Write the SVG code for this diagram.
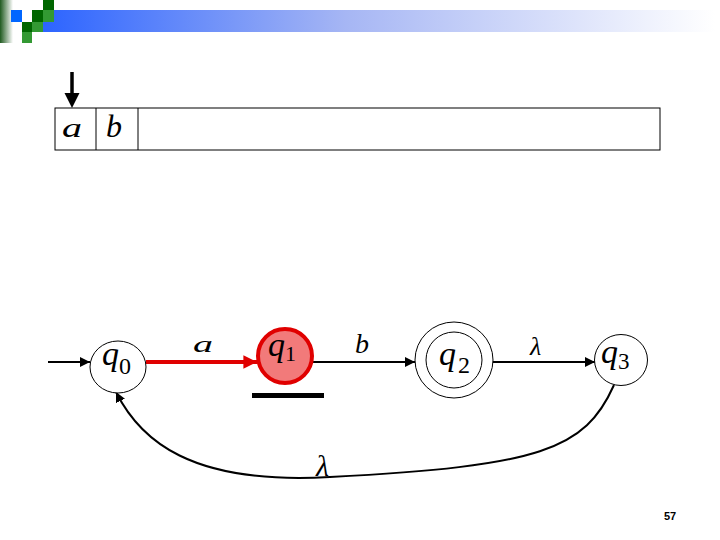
<svg xmlns="http://www.w3.org/2000/svg" width="720" height="540" viewBox="0 0 720 540">
<style>
.st{font-family:"Liberation Serif","DejaVu Serif","Times New Roman",serif;font-style:italic;fill:#000}
.sub{font-style:normal}
.lbl{font-family:"Liberation Serif","DejaVu Serif","Times New Roman",serif;font-style:italic;fill:#000}
.edge{stroke:#000;stroke-width:2;fill:none}
.thin{stroke:#000;stroke-width:1;fill:#fff}
</style>
<defs>
<linearGradient id="bar" x1="0" y1="0" x2="1" y2="0">
<stop offset="0" stop-color="#2c64ff"/>
<stop offset="0.45" stop-color="#a6b6f4"/>
<stop offset="1" stop-color="#ffffff"/>
</linearGradient>
<linearGradient id="side" x1="0" y1="0" x2="1" y2="0">
<stop offset="0" stop-color="#1f5a1f"/>
<stop offset="1" stop-color="#ffffff"/>
</linearGradient>
<marker id="ah" viewBox="0 0 10 10" refX="10" refY="5" markerWidth="5" markerHeight="5" orient="auto" markerUnits="strokeWidth">
<path d="M0,0 L10,5 L0,10 z" fill="#000"/>
</marker>
<marker id="ahr" viewBox="0 0 10 10" refX="10" refY="5" markerWidth="4" markerHeight="3.4" orient="auto" markerUnits="strokeWidth">
<path d="M0,0 L10,5 L0,10 z" fill="#e00000"/>
</marker>
</defs>

<g id="header">
<rect x="0" y="0" width="13" height="43" fill="url(#side)"/>
<rect x="43" y="10" width="672" height="22" fill="url(#bar)"/>
<rect x="11" y="10" width="11" height="12" fill="#0066ff"/>
<rect x="43" y="0" width="11" height="10" fill="#006600"/>
<rect x="32" y="10" width="11" height="12" fill="#006600"/>
<rect x="43" y="10" width="11" height="12" fill="#339933"/>
<rect x="22" y="22" width="10" height="10" fill="#006600"/>
<rect x="32" y="22" width="11" height="10" fill="#339933"/>
<rect x="22" y="32" width="10" height="11" fill="#339933"/>
</g>

<g id="tape">
<rect x="55" y="108" width="605" height="42" fill="#fff" stroke="#000" stroke-width="1"/>
<line x1="96" y1="108" x2="96" y2="150" stroke="#000" stroke-width="1"/>
<line x1="138" y1="108" x2="138" y2="150" stroke="#000" stroke-width="1"/>
<text class="lbl" x="62" y="137" font-size="28" textLength="20" lengthAdjust="spacingAndGlyphs">a</text>
<text class="lbl" x="106" y="137" font-size="32">b</text>
</g>

<g id="head">
<line x1="72" y1="72" x2="72" y2="95" stroke="#000" stroke-width="3.5"/>
<path d="M64.5,93 L79.5,93 L72,108 z" fill="#000"/>
</g>

<g id="connectors">
<line class="edge" x1="48" y1="362" x2="90" y2="362" marker-end="url(#ah)"/>
<line x1="146" y1="362" x2="257" y2="362" stroke="#e00000" stroke-width="4" marker-end="url(#ahr)"/>
<line class="edge" x1="313" y1="362" x2="415" y2="362" marker-end="url(#ah)"/>
<line class="edge" x1="493" y1="362" x2="595" y2="362" marker-end="url(#ah)"/>
<path class="edge" d="M614,385 C585,450 540,466 330,477 C190,485 140,440 116,392" marker-end="url(#ah)"/>
<text class="lbl" x="193" y="352" font-size="24" textLength="20" lengthAdjust="spacingAndGlyphs">a</text>
<text class="lbl" x="355" y="353" font-size="28">b</text>
<text class="lbl" x="530" y="355" font-size="26">λ</text>
<text class="lbl" x="316" y="476" font-size="30">λ</text>
</g>

<g id="q0">
<ellipse cx="118" cy="367" rx="28" ry="26" class="thin"/>
<text class="st" x="102" y="365" font-size="34">q<tspan class="sub" font-size="24" x="119" y="374">0</tspan></text>
</g>

<g id="q1">
<circle cx="285" cy="356" r="27" fill="#f27a7a" stroke="#e00000" stroke-width="4"/>
<text class="st" x="268" y="356" font-size="34">q<tspan class="sub" font-size="22" x="285" y="361">1</tspan></text>
<rect x="252" y="393" width="72" height="5" fill="#000"/>
</g>

<g id="q2">
<ellipse cx="454" cy="360" rx="39" ry="38" class="thin"/>
<circle cx="454" cy="360" r="28" fill="none" stroke="#000" stroke-width="1"/>
<text class="st" x="439" y="365" font-size="34">q<tspan class="sub" font-size="24" x="458" y="373">2</tspan></text>
</g>

<g id="q3">
<ellipse cx="621" cy="360" rx="26.5" ry="25.5" class="thin"/>
<text class="st" x="601" y="363" font-size="34">q<tspan class="sub" font-size="23" x="618" y="369">3</tspan></text>
</g>

<text x="670" y="520" font-family="Liberation Sans,Arial,sans-serif" font-weight="bold" font-size="11" text-anchor="middle">57</text>
</svg>
